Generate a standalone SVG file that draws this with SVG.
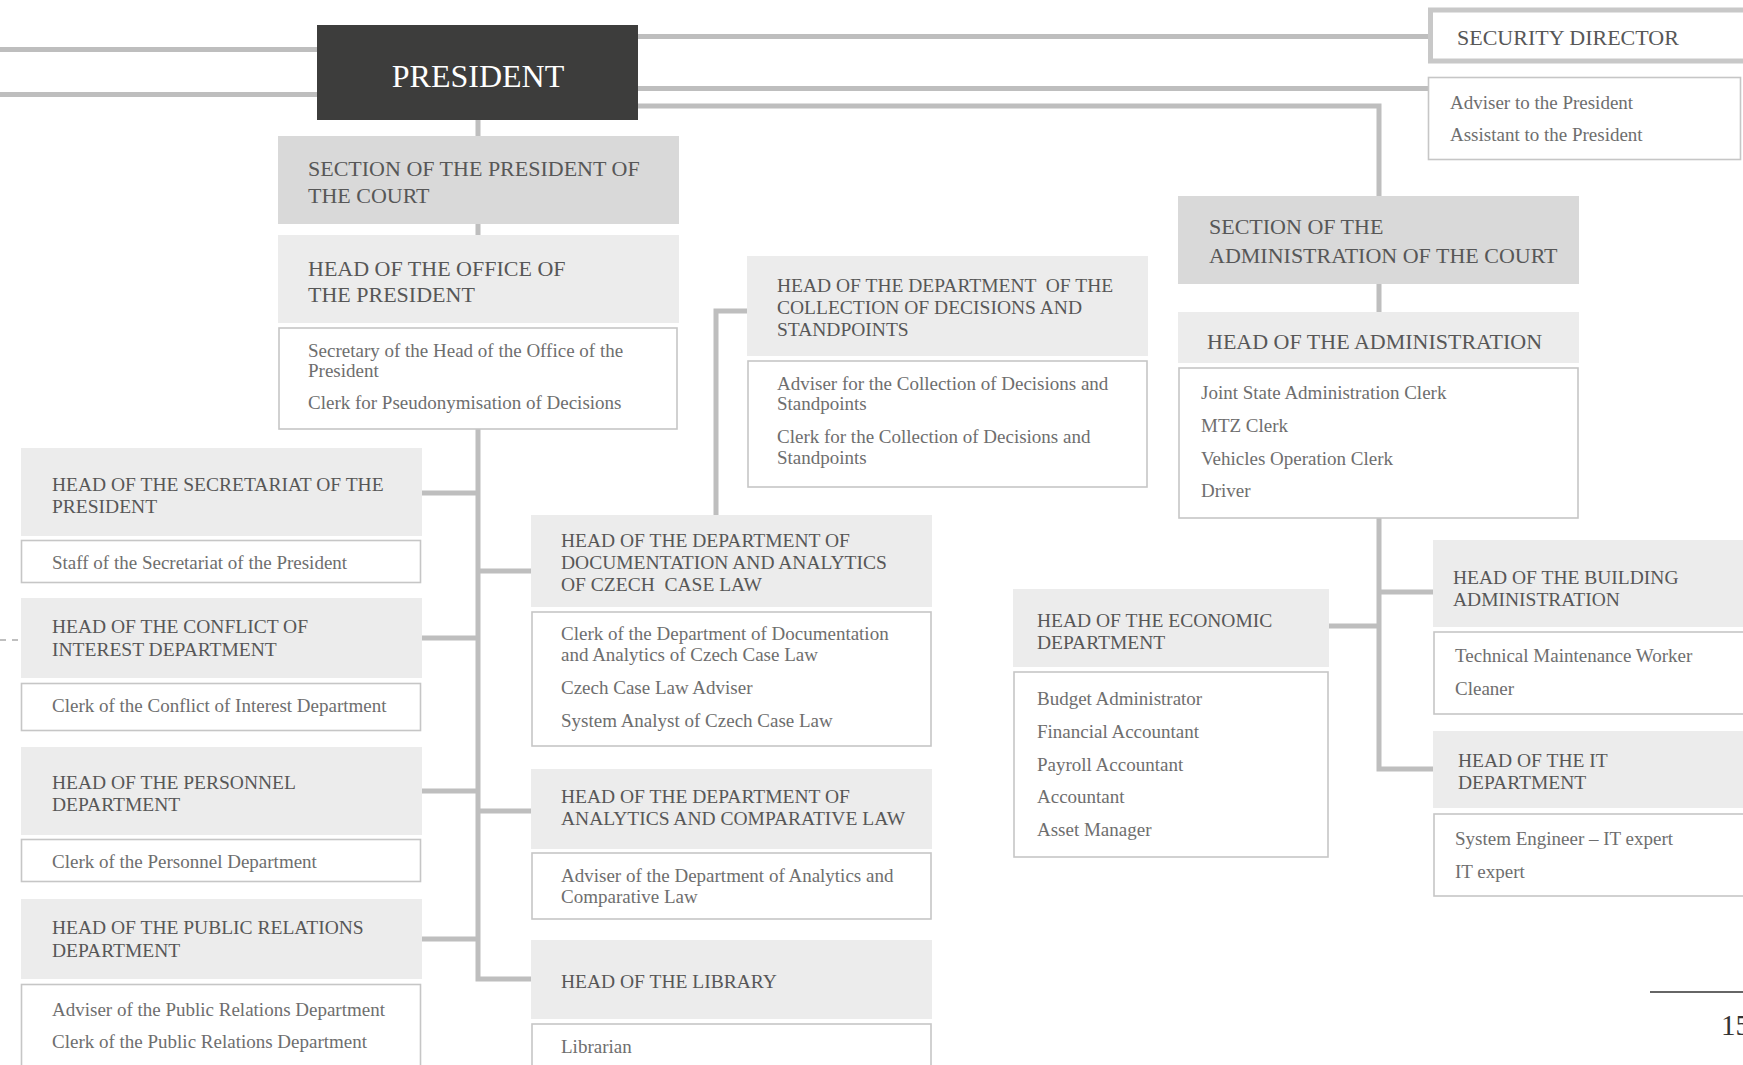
<svg xmlns="http://www.w3.org/2000/svg" width="1743" height="1065" viewBox="0 0 1743 1065">
<style>
text{font-family:"Liberation Serif","DejaVu Serif",serif;}
.hd{fill:#ececec;}
.sec{fill:#d9d9d9;}
.it{fill:#ffffff;stroke:#c6c6c6;stroke-width:1.6;}
.ht{font-size:19.5px;fill:#575757;}
.hb{font-size:22px;fill:#575757;}
.tx{font-size:19px;fill:#6e6e6e;}
.cn{fill:none;stroke:#bebebe;stroke-width:5;}
</style>
<rect width="1743" height="1065" fill="#ffffff"/>
<g id="connectors">
<path class="cn" d="M0 49.5H317M0 94.5H317M638 36.5H1428M638 88.5H1428M638 106H1379V196M478 120V136M478 224V235M478 429V979H531M421 493H478M421 638H478M421 791H478M421 939H478M478 571H531M478 811H531M747 311H716V515M1379 284V312M1379 518V769H1433M1329 626H1379M1379 592H1433"/>
<path d="M0 640H21" fill="none" stroke="#aaaaaa" stroke-width="1.5" stroke-dasharray="6 6"/>
</g>
<g id="president">
<rect x="317" y="25" width="321" height="95" fill="#3d3d3c"/>
<text x="478" y="87" text-anchor="middle" style="font-size:32px;fill:#ffffff">PRESIDENT</text>
</g>
<g id="security-director">
<rect x="1430.5" y="10" width="330" height="51" fill="#ffffff" stroke="#c8c8c8" stroke-width="5"/>
<text class="hb" x="1457" y="45">SECURITY DIRECTOR</text>
</g>
<g id="advisers">
<rect class="it" x="1428.5" y="77.5" width="312" height="82"/>
<text class="tx" x="1450" y="109">Adviser to the President</text>
<text class="tx" x="1450" y="141">Assistant to the President</text>
</g>
<g id="section-president">
<rect class="sec" x="278" y="136" width="401" height="88"/>
<text class="hb" x="308" y="176">SECTION OF THE PRESIDENT OF</text>
<text class="hb" x="308" y="203">THE COURT</text>
</g>
<g id="office-president">
<rect class="hd" x="278" y="235" width="401" height="88"/>
<text class="hb" x="308" y="276">HEAD OF THE OFFICE OF</text>
<text class="hb" x="308" y="302">THE PRESIDENT</text>
<rect class="it" x="279" y="328" width="398" height="101"/>
<text class="tx" x="308" y="357">Secretary of the Head of the Office of the</text>
<text class="tx" x="308" y="377">President</text>
<text class="tx" x="308" y="409">Clerk for Pseudonymisation of Decisions</text>
</g>
<g id="secretariat">
<rect class="hd" x="21" y="448" width="401" height="88"/>
<text class="ht" x="52" y="491">HEAD OF THE SECRETARIAT OF THE</text>
<text class="ht" x="52" y="513">PRESIDENT</text>
<rect class="it" x="21.5" y="540.5" width="399" height="42"/>
<text class="tx" x="52" y="569">Staff of the Secretariat of the President</text>
</g>
<g id="conflict">
<rect class="hd" x="21" y="598" width="401" height="80"/>
<text class="ht" x="52" y="633">HEAD OF THE CONFLICT OF</text>
<text class="ht" x="52" y="656">INTEREST DEPARTMENT</text>
<rect class="it" x="21.5" y="683.5" width="399" height="47"/>
<text class="tx" x="52" y="712">Clerk of the Conflict of Interest Department</text>
</g>
<g id="personnel">
<rect class="hd" x="21" y="747" width="401" height="88"/>
<text class="ht" x="52" y="789">HEAD OF THE PERSONNEL</text>
<text class="ht" x="52" y="811">DEPARTMENT</text>
<rect class="it" x="21.5" y="839.5" width="399" height="42"/>
<text class="tx" x="52" y="868">Clerk of the Personnel Department</text>
</g>
<g id="public-relations">
<rect class="hd" x="21" y="899" width="401" height="80"/>
<text class="ht" x="52" y="934">HEAD OF THE PUBLIC RELATIONS</text>
<text class="ht" x="52" y="957">DEPARTMENT</text>
<rect class="it" x="21.5" y="984.5" width="399" height="100"/>
<text class="tx" x="52" y="1016">Adviser of the Public Relations Department</text>
<text class="tx" x="52" y="1048">Clerk of the Public Relations Department</text>
</g>
<g id="collection">
<rect class="hd" x="747" y="256" width="401" height="100"/>
<text class="ht" x="777" y="292" xml:space="preserve">HEAD OF THE DEPARTMENT  OF THE</text>
<text class="ht" x="777" y="314">COLLECTION OF DECISIONS AND</text>
<text class="ht" x="777" y="336">STANDPOINTS</text>
<rect class="it" x="748" y="361" width="399" height="126"/>
<text class="tx" x="777" y="390">Adviser for the Collection of Decisions and</text>
<text class="tx" x="777" y="410">Standpoints</text>
<text class="tx" x="777" y="443">Clerk for the Collection of Decisions and</text>
<text class="tx" x="777" y="464">Standpoints</text>
</g>
<g id="documentation">
<rect class="hd" x="531" y="515" width="401" height="92"/>
<text class="ht" x="561" y="547">HEAD OF THE DEPARTMENT OF</text>
<text class="ht" x="561" y="569">DOCUMENTATION AND ANALYTICS</text>
<text class="ht" x="561" y="591" xml:space="preserve">OF CZECH  CASE LAW</text>
<rect class="it" x="532" y="612" width="399" height="134"/>
<text class="tx" x="561" y="640">Clerk of the Department of Documentation</text>
<text class="tx" x="561" y="661">and Analytics of Czech Case Law</text>
<text class="tx" x="561" y="694">Czech Case Law Adviser</text>
<text class="tx" x="561" y="727">System Analyst of Czech Case Law</text>
</g>
<g id="analytics">
<rect class="hd" x="531" y="769" width="401" height="80"/>
<text class="ht" x="561" y="803">HEAD OF THE DEPARTMENT OF</text>
<text class="ht" x="561" y="825">ANALYTICS AND COMPARATIVE LAW</text>
<rect class="it" x="532" y="853" width="399" height="66"/>
<text class="tx" x="561" y="882">Adviser of the Department of Analytics and</text>
<text class="tx" x="561" y="903">Comparative Law</text>
</g>
<g id="library">
<rect class="hd" x="531" y="940" width="401" height="79"/>
<text class="ht" x="561" y="988">HEAD OF THE LIBRARY</text>
<rect class="it" x="532" y="1024" width="399" height="60"/>
<text class="tx" x="561" y="1053">Librarian</text>
</g>
<g id="section-administration">
<rect class="sec" x="1178" y="196" width="401" height="88"/>
<text class="hb" x="1209" y="234">SECTION OF THE</text>
<text class="hb" x="1209" y="263">ADMINISTRATION OF THE COURT</text>
</g>
<g id="head-administration">
<rect class="hd" x="1178" y="312" width="401" height="51"/>
<text class="hb" x="1207" y="349">HEAD OF THE ADMINISTRATION</text>
<rect class="it" x="1179" y="368" width="399" height="150"/>
<text class="tx" x="1201" y="399">Joint State Administration Clerk</text>
<text class="tx" x="1201" y="432">MTZ Clerk</text>
<text class="tx" x="1201" y="465">Vehicles Operation Clerk</text>
<text class="tx" x="1201" y="497">Driver</text>
</g>
<g id="economic">
<rect class="hd" x="1013" y="589" width="316" height="78"/>
<text class="ht" x="1037" y="627">HEAD OF THE ECONOMIC</text>
<text class="ht" x="1037" y="649">DEPARTMENT</text>
<rect class="it" x="1014" y="672" width="314" height="185"/>
<text class="tx" x="1037" y="705">Budget Administrator</text>
<text class="tx" x="1037" y="738">Financial Accountant</text>
<text class="tx" x="1037" y="771">Payroll Accountant</text>
<text class="tx" x="1037" y="803">Accountant</text>
<text class="tx" x="1037" y="836">Asset Manager</text>
</g>
<g id="building">
<rect class="hd" x="1433" y="540" width="320" height="87"/>
<text class="ht" x="1453" y="584">HEAD OF THE BUILDING</text>
<text class="ht" x="1453" y="606">ADMINISTRATION</text>
<rect class="it" x="1434" y="632" width="320" height="82"/>
<text class="tx" x="1455" y="662">Technical Maintenance Worker</text>
<text class="tx" x="1455" y="695">Cleaner</text>
</g>
<g id="it-department">
<rect class="hd" x="1433" y="731" width="320" height="77"/>
<text class="ht" x="1458" y="767">HEAD OF THE IT</text>
<text class="ht" x="1458" y="789">DEPARTMENT</text>
<rect class="it" x="1434" y="814" width="320" height="82"/>
<text class="tx" x="1455" y="845">System Engineer – IT expert</text>
<text class="tx" x="1455" y="878">IT expert</text>
</g>
<g id="footer">
<line x1="1650" y1="992" x2="1743" y2="992" stroke="#333333" stroke-width="1.5"/>
<text x="1721" y="1035" style="font-size:29px;fill:#333333">15</text>
</g>
</svg>
